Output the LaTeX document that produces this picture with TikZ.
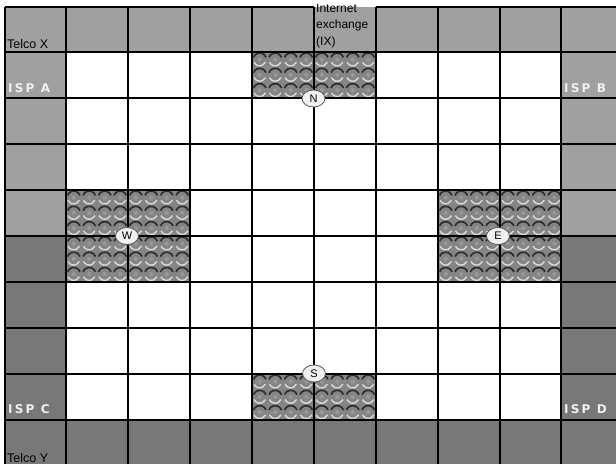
\documentclass[tikz,border=0pt]{standalone}
\usepackage{fontspec}
\setmainfont{Liberation Sans}
\newfontfamily\ispfont[LetterSpace=18]{DejaVu Sans Bold}
\usetikzlibrary{shapes.geometric}
\definecolor{lightcell}{HTML}{A0A0A0}
\definecolor{darkcell}{HTML}{787878}
\definecolor{bubblebase}{HTML}{858585}
\definecolor{bubbledark}{HTML}{2E2E2E}
\definecolor{bubblelight}{HTML}{DADADA}
\newcommand\bubblearea[4]{% x0 y0 x1 y1
  \begin{scope}
    \clip (#1,#2) rectangle (#3,#4);
    \fill[bubblebase] (#1,#2) rectangle (#3,#4);
    \foreach \i in {0,...,8} {
      \foreach \j in {0,...,6} {
        \pgfmathsetmacro\cx{#1+7.75+15.5*\i}
        \pgfmathsetmacro\cy{#2+7.6+15.3*\j}
        \draw[bubbledark,line width=1.7pt] ([shift={(160:6.6pt)}]\cx,\cy) arc[start angle=160,end angle=20,radius=6.6pt];
        \draw[bubblelight,line width=1.4pt] ([shift={(205:6.3pt)}]\cx,\cy) arc[start angle=205,end angle=335,radius=6.3pt];
        \fill[black!40] (\cx,\cy) circle[radius=2pt];
      }
    }
  \end{scope}
}
\tikzset{
  gridline/.style={black,line width=1.3pt},
  compass/.style={ellipse,draw=black!65,line width=0.8pt,fill=white!94!black,minimum width=23pt,minimum height=17pt,inner sep=0pt,font=\fontsize{11}{11}\selectfont},
  plainlabel/.style={anchor=base west,inner sep=0pt,font=\fontsize{12.5}{12.5}\selectfont},
  isplabel/.style={anchor=base west,inner sep=0pt,text=white!94!black,font=\ispfont\fontsize{12}{12}\selectfont},
}
\begin{document}
\begin{tikzpicture}[x=1pt,y=-1pt]
\useasboundingbox (0,0) rectangle (616,464);
\fill[white] (0,0) rectangle (616,464);
% cell fills
\fill[lightcell] (5,7) rectangle (616,52);
\fill[darkcell] (5,420) rectangle (616,464);
\fill[lightcell] (5,52) rectangle (66,236);
\fill[lightcell] (561,52) rectangle (616,236);
\fill[darkcell] (5,236) rectangle (66,420);
\fill[darkcell] (561,236) rectangle (616,420);
% textured areas
\bubblearea{252}{52}{376}{98}
\bubblearea{66}{190}{190}{282}
\bubblearea{438}{190}{561}{282}
\bubblearea{252}{374}{376}{420}
% grid
\foreach \yy in {52,98,144,190,236,282,328,374,420}
  \draw[gridline] (5,\yy) -- (616,\yy);
\draw[gridline] (5,7) -- (314,7);
\draw[gridline] (376,7) -- (616,7);
\foreach \xx in {5,66,128,190,252,314,376,438,500,561}
  \draw[gridline] (\xx,7) -- (\xx,464);
% labels
\node[plainlabel] (telcox) at (7,48) {Telco X};
\node[plainlabel] (telcoy) at (7,462) {Telco Y};
\node[plainlabel,anchor=north west,align=left,font=\fontsize{12}{16.5}\selectfont] (ix) at (316,4) {Internet\\exchange\\(IX)};
\node[isplabel] (ispa) at (8,92) {ISP A};
\node[isplabel] (ispb) at (564,92) {ISP B};
\node[isplabel] (ispc) at (8,413) {ISP C};
\node[isplabel] (ispd) at (564,413) {ISP D};
% compass markers
\node[compass] (n) at (313.5,98.5) {N};
\node[compass] (w) at (127,236) {W};
\node[compass] (e) at (498,236) {E};
\node[compass] (s) at (314,373.5) {S};
\end{tikzpicture}
\end{document}
